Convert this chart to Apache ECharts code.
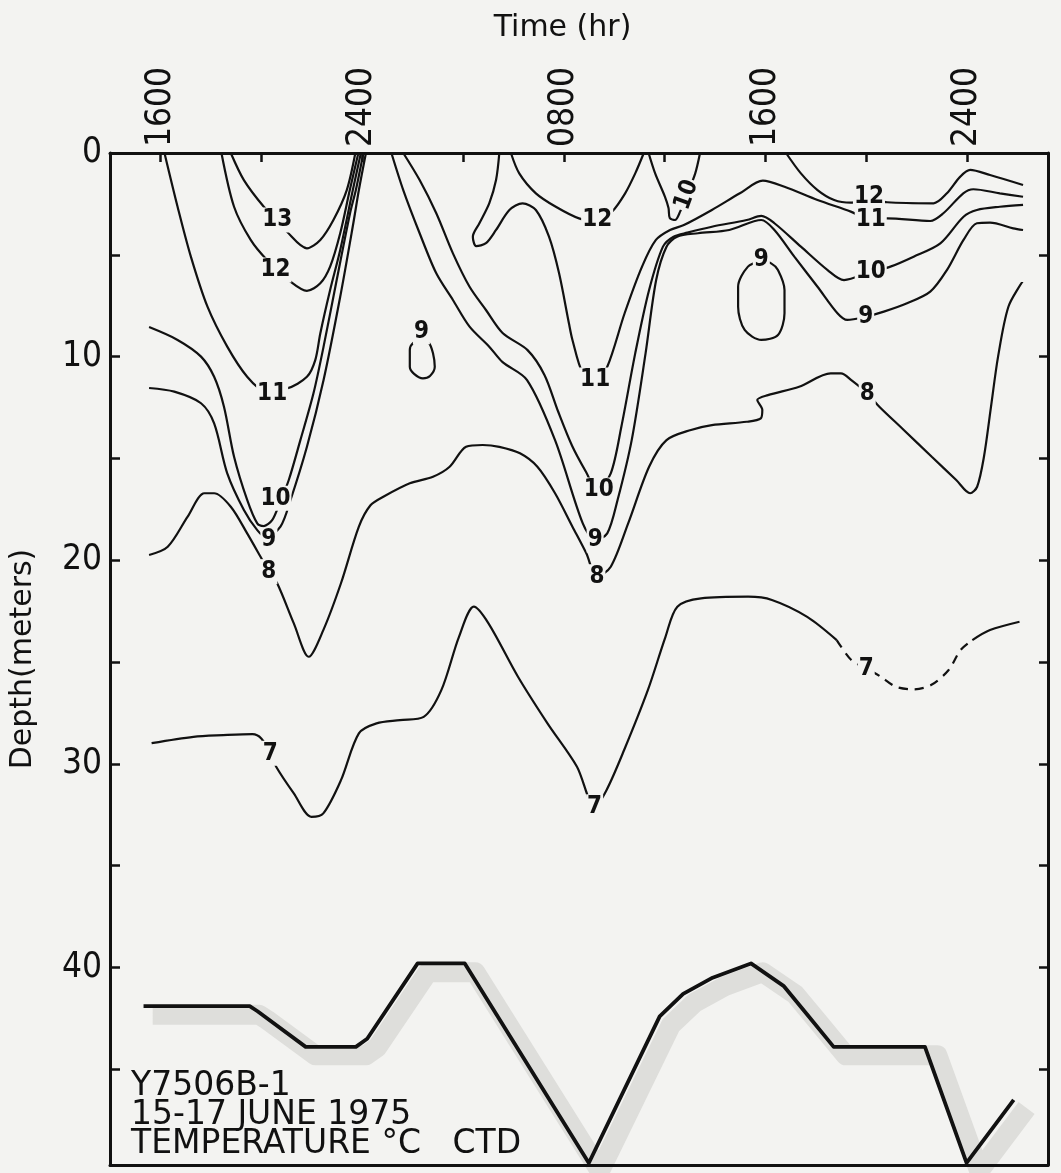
<!DOCTYPE html>
<html>
<head>
<meta charset="utf-8">
<script src="https://cdn.jsdelivr.net/npm/echarts@6.0.0/dist/echarts.min.js"></script>
<style>
  html, body { margin: 0; padding: 0; background: #f3f3f1; }
  #chart { width: 1061px; height: 1173px; }
</style>
</head>
<body>
<div id="chart"></div>
<script>
// ---- axes (time in hours from 0000 on 15 June; depth in metres) ----
const xTickValues = [16, 20, 24, 28, 32, 36, 40, 44, 48];
const xLabelValues = [16, 24, 32, 40, 48];
const xLabelText = ['1600', '2400', '0800', '1600', '2400'];
const yTickValues = [0, 5, 10, 15, 20, 25, 30, 35, 40, 45];
const yLabelValues = [0, 10, 20, 30, 40];
const yRightTicks = [5, 10, 15, 20, 25, 30, 35, 40, 45];

// ---- isotherms [time hr, depth m] ----
const iso13 = [[18.79,0],[19.31,1.33],[20.10,2.64],[21.02,3.87],[21.81,4.68],[22.34,4.27],[22.86,3.29],[23.39,1.82],[23.73,0]];
const iso12a = [[18.42,0],[18.92,2.64],[19.58,4.27],[20.23,5.26],[21.16,6.32],[21.81,6.77],[22.34,6.40],[22.73,5.58],[23.13,3.94],[23.51,1.82],[23.85,0]];
const iso11a = [[16.16,0],[16.68,2.64],[17.21,5.1],[17.87,7.56],[18.65,9.51],[19.44,10.99],[20.10,11.64],[21.02,11.56],[21.81,10.99],[22.14,10.17],[22.34,8.86],[22.73,6.73],[23.13,4.76],[23.63,1.82],[23.95,0]];
const iso10a = [[15.55,8.55],[16.68,9.18],[17.61,10.0],[18.13,10.99],[18.52,12.46],[18.92,14.92],[19.44,17.04],[19.84,18.19],[20.10,18.32],[20.43,18.03],[20.73,17.19],[21.09,16.06],[21.55,14.10],[22.07,11.80],[22.47,9.51],[22.99,6.24],[23.52,2.96],[23.75,1.82],[24.05,0]];
const iso9a = [[15.55,11.54],[16.55,11.72],[17.61,12.29],[18.13,13.28],[18.65,15.73],[19.31,17.53],[19.84,18.52],[20.18,18.86],[20.76,18.35],[21.16,17.04],[21.81,14.43],[22.47,11.15],[23.13,7.06],[23.65,3.45],[23.87,1.82],[24.15,0]];
const iso8 = [[15.55,19.74],[16.29,19.34],[17.08,17.86],[17.74,16.71],[18.13,16.71],[18.79,17.37],[19.44,18.68],[19.97,19.83],[20.30,20.56],[20.63,21.13],[21.29,23.1],[21.88,24.74],[22.46,23.43],[23.16,21.13],[23.87,18.35],[24.33,17.3],[24.84,16.88],[25.89,16.22],[26.81,15.9],[27.47,15.41],[28.12,14.43],[28.78,14.34],[29.44,14.43],[30.26,14.75],[30.95,15.41],[31.65,16.71],[32.34,18.35],[32.89,19.66],[33.31,20.81],[33.86,20.32],[34.55,18.19],[35.38,15.41],[36.07,14.1],[37.04,13.6],[37.87,13.36],[39.25,13.2],[39.81,13.03],[39.87,12.62],[39.67,12.13],[40.09,11.89],[41.33,11.48],[42.58,10.82],[42.99,10.82],[43.40,11.15],[44.03,11.8],[44.51,12.46],[45.48,13.6],[46.59,14.92],[47.56,16.06],[48.11,16.71],[48.39,16.39],[48.66,14.92],[48.94,12.46],[49.22,10.0],[49.63,7.55],[50.19,6.32]];
const iso9b = [[25.16,0],[25.63,1.82],[26.28,3.94],[26.94,5.91],[27.60,7.22],[28.26,8.53],[29.04,9.51],[29.57,10.27],[30.54,11.15],[31.65,14.1],[32.75,18.19],[33.24,19.0],[33.72,18.68],[34.13,17.04],[34.69,14.1],[35.24,9.84],[35.66,6.24],[36.07,4.6],[36.49,4.11],[37.32,3.94],[38.56,3.78],[39.83,3.29],[40.35,3.78],[41.14,5.09],[42.06,6.57],[42.85,7.87],[43.24,8.2],[43.97,8.04],[44.69,7.79],[45.61,7.38],[46.53,6.81],[47.19,5.75],[47.85,4.27],[48.38,3.45],[48.90,3.42],[49.82,3.70],[50.21,3.78]];
const iso10b = [[25.63,0],[26.28,1.33],[26.94,2.96],[27.60,4.93],[28.26,6.57],[28.91,7.71],[29.57,8.84],[30.56,9.68],[31.23,10.9],[31.78,12.72],[32.33,14.39],[32.88,15.67],[33.32,16.55],[33.86,15.73],[34.28,13.44],[34.83,9.84],[35.38,6.73],[35.93,4.6],[36.35,4.11],[36.90,3.91],[37.87,3.62],[39.25,3.29],[39.83,3.09],[40.35,3.45],[41.40,4.6],[42.46,5.75],[43.11,6.24],[44.17,5.83],[44.95,5.58],[45.87,5.09],[46.93,4.44],[47.85,3.13],[48.38,2.80],[49.29,2.64],[50.21,2.55]];
const iso11b = [[29.44,0],[29.31,1.33],[29.04,2.47],[28.65,3.45],[28.39,4.11],[28.52,4.57],[28.91,4.43],[29.31,3.78],[29.84,2.8],[30.36,2.47],[30.89,2.8],[31.41,4.11],[31.81,5.91],[32.20,8.36],[32.34,9.18],[32.75,10.82],[33.24,11.25],[33.72,10.5],[34.41,7.87],[35.10,5.58],[35.65,4.27],[36.21,3.78],[36.76,3.54],[37.87,2.80],[38.98,1.98],[39.89,1.36],[40.75,1.66],[42.06,2.31],[43.38,2.88],[44.17,3.29],[44.82,3.21],[46.53,3.34],[47.05,2.96],[47.84,1.98],[48.24,1.78],[49.29,1.98],[50.21,2.15]];
const iso12b = [[29.90,0],[30.23,1.0],[30.89,1.98],[31.68,2.64],[32.60,3.21],[33.32,3.34],[33.91,2.88],[34.43,1.98],[34.83,1.0],[35.17,0]];
const iso10c = [[35.36,0],[35.62,1.0],[36.01,2.15],[36.15,2.7],[36.2,3.19],[36.41,3.29],[36.61,2.88],[36.88,2.06],[37.21,1.0],[37.40,0]];
const iso12c = [[40.81,0],[41.40,1.0],[42.06,1.82],[42.72,2.31],[43.38,2.44],[44.10,2.26],[44.82,2.42],[46.66,2.47],[47.19,1.98],[47.72,1.16],[48.11,0.83],[48.90,1.08],[50.21,1.57]];
const iso9loopA = [[26.35,9.18],[26.65,9.33],[26.81,9.84],[26.88,10.5],[26.69,10.95],[26.41,11.07],[26.06,10.85],[25.89,10.5],[25.89,9.68],[26.02,9.33],[26.35,9.18]];
const iso9loopB = [[39.83,5.3],[40.22,5.42],[40.49,5.75],[40.75,6.73],[40.75,7.87],[40.49,8.94],[39.83,9.18],[39.17,8.69],[38.91,7.55],[38.91,6.57],[39.30,5.58],[39.83,5.3]];
const iso7a = [[15.65,28.98],[17.31,28.67],[18.49,28.59],[19.65,28.54],[20.0,28.75],[20.36,29.48],[20.59,30.14],[21.29,31.45],[21.99,32.6],[22.46,32.43],[23.16,30.80],[23.87,28.5],[24.57,28.01],[25.50,27.85],[26.44,27.69],[27.14,26.38],[27.84,23.76],[28.43,22.28],[29.01,23.1],[30.18,25.72],[31.35,28.01],[32.52,30.14],[33.22,32.11],[33.69,31.29],[34.39,29.32],[35.33,26.38],[36.03,23.76],[36.50,22.28],[37.44,21.87],[39.31,21.79],[40.25,21.95],[41.65,22.78],[42.82,23.92]];
const iso7dashed = [[42.82,23.92],[43.40,24.9],[43.99,25.31],[44.57,25.72],[45.16,26.21],[45.86,26.34],[46.56,26.13],[47.26,25.39],[47.73,24.41],[48.20,23.92]];
const iso7b = [[48.20,23.92],[48.90,23.43],[50.07,23.02]];

// ---- bottom depth profile ----
const bottomProfile = [[15.33,41.9],[19.54,41.9],[19.85,42.15],[21.76,43.9],[23.75,43.9],[24.2,43.5],[26.2,39.8],[28.07,39.8],[32.99,49.6],[35.8,42.4],[36.73,41.3],[37.9,40.5],[39.42,39.8],[40.71,40.9],[41.64,42.3],[42.7,43.9],[46.32,43.9],[47.97,49.6],[49.84,46.5]];

// ---- isotherm labels ----
const labelText = ['13','12','11','10','9','8','7','9','12','11','10','9','8','7','10','9','12','11','10','9','8','7'];
const labelTime = [20.63,20.56,20.43,20.56,20.30,20.30,20.36,26.35,33.32,33.24,33.38,33.24,33.31,33.22,36.87,39.83,44.10,44.17,44.17,43.97,44.03,43.99];
const labelDepth = [3.29,5.75,11.8,16.96,19.01,20.56,29.48,8.78,3.29,11.15,16.55,19.01,20.81,32.11,2.06,5.26,2.15,3.29,5.83,8.04,11.8,25.31];
const labelRotate = [0,0,0,0,0,0,0,0,0,0,0,0,0,0,70,0,0,0,0,0,0,0];

const INK = '#111111';
const BG = '#f3f3f1';
const tMin = 14, tMax = 51.2, dMax = 49.7;

const solidIsotherms = [iso13, iso12a, iso11a, iso10a, iso9a, iso8, iso9b, iso10b, iso11b, iso12b, iso10c, iso12c, iso9loopA, iso9loopB, iso7a, iso7b];

const series = [];
series.push({
  type: 'line', xAxisIndex: 2, yAxisIndex: 2, data: bottomProfile,
  showSymbol: false, silent: true, z: 1,
  lineStyle: { color: '#dededb', width: 20, join: 'round', cap: 'butt' }
});
solidIsotherms.forEach(d => series.push({
  type: 'line', xAxisIndex: 0, yAxisIndex: 0, data: d,
  showSymbol: false, silent: true, smooth: 0.3, z: 4,
  lineStyle: { color: INK, width: 2.2 }
}));
series.push({
  type: 'line', xAxisIndex: 0, yAxisIndex: 0, data: iso7dashed,
  showSymbol: false, silent: true, smooth: 0.3, z: 4,
  lineStyle: { color: INK, width: 2.2, type: [9, 7] }
});
series.push({
  type: 'line', xAxisIndex: 0, yAxisIndex: 0, data: bottomProfile,
  showSymbol: false, silent: true, z: 5,
  lineStyle: { color: INK, width: 3.8, join: 'round' }
});
series.push({
  type: 'scatter', xAxisIndex: 0, yAxisIndex: 0, silent: true, z: 10,
  symbolSize: 1, itemStyle: { color: BG, opacity: 1 },
  data: labelText.map((t, i) => ({
    name: t, value: [labelTime[i], labelDepth[i]],
    label: { rotate: labelRotate[i] }
  })),
  label: {
    show: true, position: 'inside', formatter: p => p.name,
    fontFamily: "'DejaVu Sans Condensed', 'DejaVu Sans', sans-serif",
    fontWeight: 'bold', fontSize: 24, color: INK,
    textBorderWidth: 0, opacity: 1,
    backgroundColor: BG, padding: [1, 1, 0, 1]
  }
});

const chart = echarts.init(document.getElementById('chart'), null, { renderer: 'canvas' });
chart.setOption({
  animation: false,
  backgroundColor: BG,
  grid: [
    { left: 105, top: 153, width: 943, height: 1012 },
    { left: 119, top: 165, width: 943, height: 1012 }
  ],
  xAxis: [
    {
      gridIndex: 0, type: 'value', position: 'top', min: tMin, max: tMax, z: 3,
      axisLine: { show: true, lineStyle: { color: INK, width: 3 } },
      axisTick: { show: true, inside: true, length: 9, lineStyle: { color: INK, width: 2.5 }, customValues: xTickValues },
      axisLabel: {
        customValues: xLabelValues, rotate: 90, margin: 6,
        formatter: v => xLabelText[xLabelValues.indexOf(v)],
        fontSize: 35, fontFamily: "'DejaVu Sans Condensed', 'DejaVu Sans', sans-serif", color: INK
      },
      splitLine: { show: false },
      name: 'Time (hr)', nameLocation: 'middle', nameGap: 110,
      nameTextStyle: { fontSize: 30, fontFamily: "'DejaVu Sans', sans-serif", color: INK, padding: [0, 33, 0, 0] }
    },
    {
      gridIndex: 0, type: 'value', position: 'bottom', min: tMin, max: tMax, z: 3,
      axisLine: { show: true, onZero: false, lineStyle: { color: INK, width: 3 } },
      axisTick: { show: false }, axisLabel: { show: false }, splitLine: { show: false }
    },
    { gridIndex: 1, type: 'value', min: tMin, max: tMax, show: false }
  ],
  yAxis: [
    {
      gridIndex: 0, type: 'value', position: 'left', inverse: true, min: 0, max: dMax, z: 3,
      axisLine: { show: true, onZero: false, lineStyle: { color: INK, width: 3 } },
      axisTick: { show: true, inside: true, length: 10, lineStyle: { color: INK, width: 2.5 }, customValues: yTickValues },
      axisLabel: {
        customValues: yLabelValues, margin: 8,
        fontSize: 35, fontFamily: "'DejaVu Sans Condensed', 'DejaVu Sans', sans-serif", color: INK
      },
      splitLine: { show: false },
      name: 'Depth(meters)', nameLocation: 'middle', nameGap: 72, nameRotate: 90,
      nameTextStyle: { fontSize: 30, fontFamily: "'DejaVu Sans', sans-serif", color: INK }
    },
    {
      gridIndex: 0, type: 'value', position: 'right', inverse: true, min: 0, max: dMax, z: 3,
      axisLine: { show: true, onZero: false, lineStyle: { color: INK, width: 3 } },
      axisTick: { show: true, inside: true, length: 9, lineStyle: { color: INK, width: 2.5 }, customValues: yRightTicks },
      axisLabel: { show: false }, splitLine: { show: false }
    },
    { gridIndex: 1, type: 'value', inverse: true, min: 0, max: dMax, show: false }
  ],
  graphic: [
    { type: 'text', x: 131, y: 1086, z: 20, style: { text: 'Y7506B-1', fontSize: 33, fontFamily: "'DejaVu Sans', sans-serif", fill: INK, verticalAlign: 'middle' } },
    { type: 'text', x: 131, y: 1115, z: 20, style: { text: '15-17 JUNE 1975', fontSize: 33, fontFamily: "'DejaVu Sans', sans-serif", fill: INK, verticalAlign: 'middle' } },
    { type: 'text', x: 131, y: 1144, z: 20, style: { text: 'TEMPERATURE \u00B0C   CTD', fontSize: 33, fontFamily: "'DejaVu Sans', sans-serif", fill: INK, verticalAlign: 'middle' } }
  ],
  series: series
});
</script>
</body>
</html>
